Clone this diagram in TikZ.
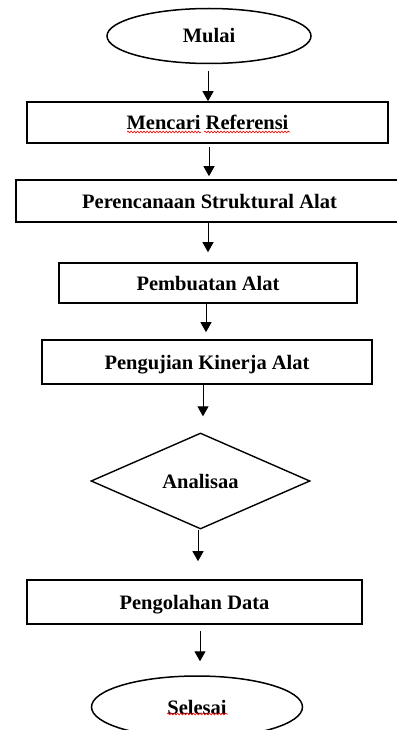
\documentclass[tikz,border=0pt]{standalone}
\usepackage{fontspec}
\setmainfont{Liberation Serif}
\usetikzlibrary{shapes.geometric,arrows.meta,decorations.pathmorphing}
\tikzset{
  lbl/.style={font=\fontsize{20.5}{24}\selectfont\bfseries, text height=14pt, text depth=0pt, inner sep=0pt},
  procbox/.style={lbl, draw, line width=1.6pt, rectangle},
  term/.style={lbl, draw, line width=1.5pt, ellipse},
  decide/.style={lbl, draw, line width=1.4pt, diamond},
  arr/.style={line width=1pt, -{Triangle[width=11pt,length=10pt]}},
  spell/.style={red, line width=0.6pt, decorate, decoration={snake, amplitude=0.9pt, segment length=3.2pt}}
}
\begin{document}
\begin{tikzpicture}[x=1pt,y=-1pt]
\useasboundingbox (0,0) rectangle (396,730);
\fill[white] (0,0) rectangle (396,730);

\node[term, minimum width=204pt, minimum height=55pt] (mulai) at (209,36) {Mulai};
\node[procbox, minimum width=361pt, minimum height=41pt] (b1) at (207.5,122.5) {Mencari Referensi};
\node[procbox, minimum width=387pt, minimum height=42pt] (b2) at (209.5,201) {Perencanaan Struktural Alat};
\node[procbox, minimum width=298pt, minimum height=40pt] (b3) at (208,283) {Pembuatan Alat};
\node[procbox, minimum width=330pt, minimum height=44pt] (b4) at (207,362) {Pengujian Kinerja Alat};
\node[decide, minimum width=219pt, minimum height=96pt] (d1) at (200.5,481) {Analisaa};
\node[procbox, minimum width=335pt, minimum height=44pt] (b5) at (194.5,602) {Pengolahan Data};
\node[term, minimum width=211pt, minimum height=62pt] (selesai) at (197,707) {Selesai};

% spell-check underlines
\coordinate (u1a) at (127,132);
\coordinate (u1b) at (201,132);
\coordinate (u2a) at (204,132);
\coordinate (u2b) at (290,132);
\coordinate (u3a) at (167,714);
\coordinate (u3b) at (228,714);
\draw[spell] (u1a) -- (u1b);
\draw[spell] (u2a) -- (u2b);
\draw[spell] (u3a) -- (u3b);

% connectors
\draw[arr, shorten <=7pt] ([xshift=-1pt]mulai.south) -- ([xshift=0.5pt]b1.north);
\draw[arr, shorten <=3pt, shorten >=3pt] ([xshift=1.5pt]b1.south) -- ([xshift=-0.5pt]b2.north);
\draw[arr, shorten >=10pt] ([xshift=-1.5pt]b2.south) -- (b3.north);
\draw[arr, shorten >=7pt] ([xshift=-2pt]b3.south) -- ([xshift=-1pt]b4.north);
\draw[arr, shorten >=16pt] ([xshift=-4pt]b4.south) -- ([xshift=2.5pt]d1.north);
\draw[arr, shorten >=18pt] ([xshift=-2.5pt]d1.south) -- ([xshift=3.5pt]b5.north);
\draw[arr, shorten <=6pt, shorten >=14pt] ([xshift=5.5pt]b5.south) -- ([xshift=3pt]selesai.north);
\end{tikzpicture}
\end{document}
